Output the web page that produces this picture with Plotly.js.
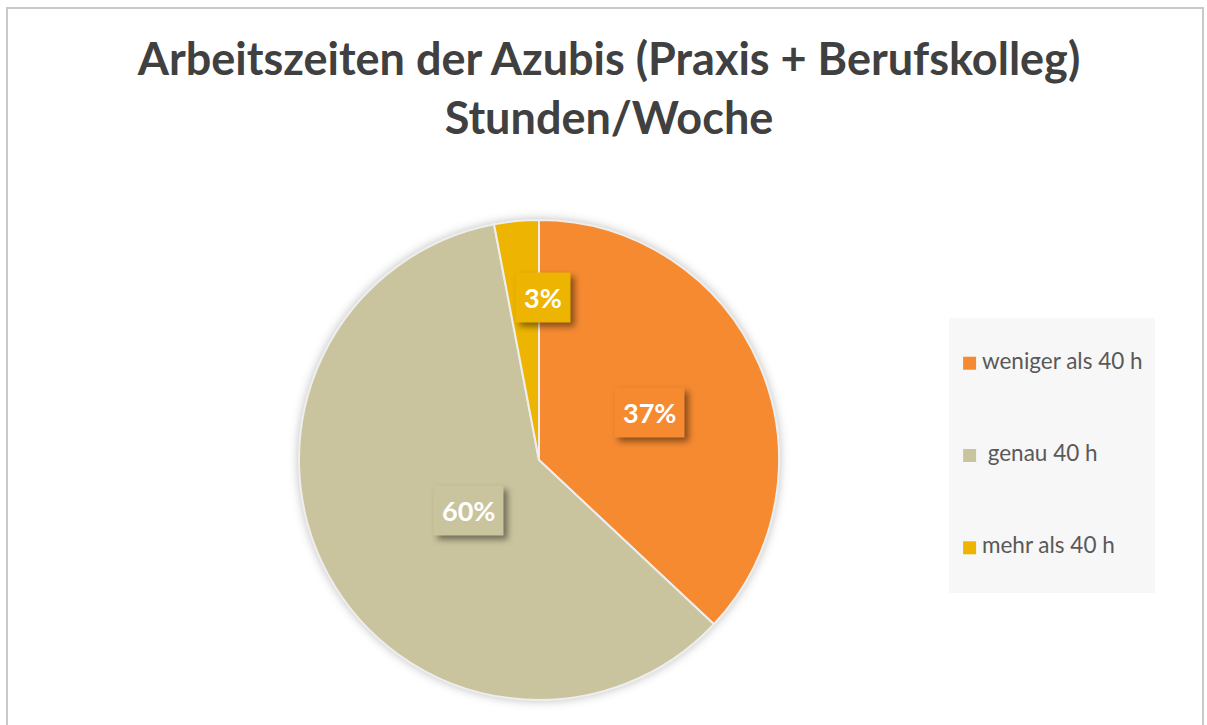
<!DOCTYPE html>
<html><head><meta charset="utf-8">
<script src="https://cdn.plot.ly/plotly-3.0.1.min.js"></script>
<style>
html,body{margin:0;padding:0;background:#fff;}
#chart{width:1207px;height:725px;}
.pielayer{filter:drop-shadow(0 0 5px rgba(0,0,0,0.25));}
.annotation rect.bg{filter:drop-shadow(4px 4px 3px rgba(0,0,0,0.45));}
</style>
</head><body><div id="chart"></div>
<script>
// ---- data ----
const categories = ['weniger als 40 h', ' genau 40 h', 'mehr als 40 h'];
const percentValues = [37, 60, 3];
const sliceColors = ['#F58A31', '#CAC49E', '#EDB402'];
const titleText = 'Arbeitszeiten der Azubis (Praxis + Berufskolleg)<br>Stunden/Woche';

// ---- layout constants ----
const W = 1207, H = 725;
const pieLeft = 299, pieTop = 220, pieSize = 480;
const labelRadiusFrac = [0.5, 0.38, 0.68];
const labelShiftPx = [[0, 0], [9, 7], [19, 0]];
const pieDomain = {
  x: [pieLeft / W, (pieLeft + pieSize) / W],
  y: [(H - pieTop - pieSize) / H, (H - pieTop) / H]
};
const cxPx = pieLeft + pieSize / 2, cyPx = pieTop + pieSize / 2, rPx = pieSize / 2;

const total = percentValues.reduce((a, b) => a + b, 0);
const annotations = [];
let cum = 0;
percentValues.forEach((v, i) => {
  const mid = (cum + v / 2) / total * 2 * Math.PI;
  cum += v;
  const px = cxPx + rPx * labelRadiusFrac[i] * Math.sin(mid) + labelShiftPx[i][0];
  const py = cyPx - rPx * labelRadiusFrac[i] * Math.cos(mid) + labelShiftPx[i][1];
  annotations.push({
    xref: 'paper', yref: 'paper', x: px / W, y: 1 - py / H,
    xanchor: 'center', yanchor: 'middle', showarrow: false,
    text: Math.round(v / total * 100) + '%', borderpad: 8,
    bgcolor: sliceColors[i],
    font: {family: 'Lato, sans-serif', size: 27, color: '#ffffff', weight: 'bold'}
  });
});

const pieTrace = {
  type: 'pie',
  labels: categories,
  values: percentValues,
  sort: false,
  direction: 'clockwise',
  rotation: 0,
  textinfo: 'none',
  hoverinfo: 'skip',
  marker: {colors: sliceColors, line: {color: '#eeeeee', width: 2}},
  domain: pieDomain,
  showlegend: false
};

const legendMarkers = {
  type: 'scatter',
  mode: 'markers',
  x: categories.map(() => 0.1),
  y: categories.map((c, i) => i),
  marker: {symbol: 'square', size: 13, color: sliceColors},
  hoverinfo: 'skip',
  cliponaxis: false,
  showlegend: false
};
const legendTexts = {
  type: 'scatter',
  mode: 'text',
  x: categories.map(() => 0.16),
  y: categories.map((c, i) => i),
  text: categories,
  textposition: 'middle right',
  textfont: {family: 'Lato, sans-serif', size: 22.5, color: '#595959'},
  hoverinfo: 'skip',
  cliponaxis: false,
  showlegend: false
};

const layout = {
  width: W, height: H,
  margin: {l: 0, r: 0, t: 0, b: 0},
  paper_bgcolor: '#ffffff',
  plot_bgcolor: '#F7F7F7',
  title: {
    text: titleText, x: 609 / W, xanchor: 'center', xref: 'paper',
    y: 1 - 75 / H, yanchor: 'top', yref: 'container',
    font: {family: 'Lato, sans-serif', size: 45, color: '#404040', weight: 'bold'}
  },
  xaxis: {domain: [949 / W, 1155 / W], range: [0, 1], visible: false, fixedrange: true},
  yaxis: {domain: [(H - 593) / H, (H - 318) / H], range: [2.49, -0.49], visible: false, fixedrange: true},
  shapes: [{
    type: 'rect', xref: 'paper', yref: 'paper',
    x0: 7 / W, x1: 1203 / W, y0: -0.05, y1: 1 - 8 / H,
    line: {color: '#c9c9c9', width: 2}, fillcolor: 'rgba(0,0,0,0)', layer: 'below'
  }],
  annotations: annotations,
  showlegend: false
};

Plotly.newPlot('chart', [pieTrace, legendMarkers, legendTexts], layout, {displayModeBar: false, staticPlot: true});
</script>
</body></html>
